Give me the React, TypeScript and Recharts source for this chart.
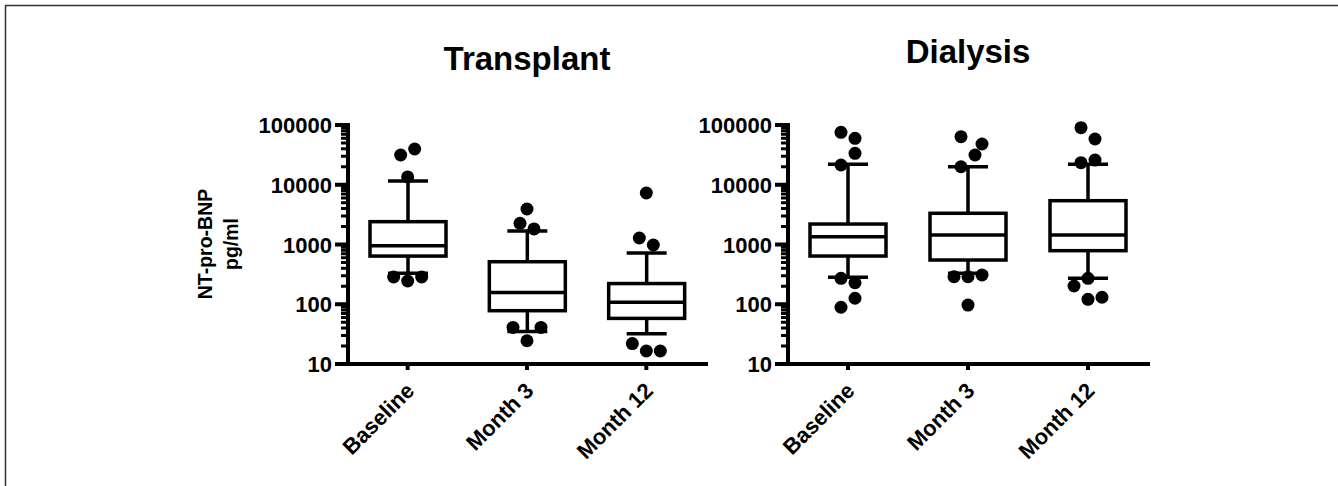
import React from "react";
import { ComposedChart, Bar, Scatter, XAxis, YAxis } from "recharts";

const FONT = "'Liberation Sans', Arial, Helvetica, sans-serif";

const categories = ["Baseline", "Month 3", "Month 12"];

// Transplant group (pg/ml)
const transplantLow = [330, 35, 32];
const transplantQ1 = [640, 78, 58];
const transplantMedian = [955, 158, 108];
const transplantQ3 = [2410, 515, 222];
const transplantHigh = [11600, 1680, 720];

// Dialysis group (pg/ml)
const dialysisLow = [282, 330, 272];
const dialysisQ1 = [641, 550, 788];
const dialysisMedian = [1350, 1440, 1440];
const dialysisQ3 = [2200, 3330, 5410];
const dialysisHigh = [22000, 20000, 22000];

// outliers: slot = jitter column (-2..2) so dots do not overlap
const transplantOutliers = [
  { cat: "Baseline", v: 31500, slot: -1 },
  { cat: "Baseline", v: 39700, slot: 1 },
  { cat: "Baseline", v: 13500, slot: 0 },
  { cat: "Baseline", v: 286, slot: -2 },
  { cat: "Baseline", v: 245, slot: 0 },
  { cat: "Baseline", v: 286, slot: 2 },
  { cat: "Month 3", v: 3930, slot: 0 },
  { cat: "Month 3", v: 2260, slot: -1 },
  { cat: "Month 3", v: 1820, slot: 1 },
  { cat: "Month 3", v: 41, slot: -2 },
  { cat: "Month 3", v: 41, slot: 2 },
  { cat: "Month 3", v: 24.5, slot: 0 },
  { cat: "Month 12", v: 7280, slot: 0 },
  { cat: "Month 12", v: 1285, slot: -1 },
  { cat: "Month 12", v: 980, slot: 1 },
  { cat: "Month 12", v: 22, slot: -2 },
  { cat: "Month 12", v: 16.5, slot: 0 },
  { cat: "Month 12", v: 16.5, slot: 2 },
];

const dialysisOutliers = [
  { cat: "Baseline", v: 75500, slot: -1 },
  { cat: "Baseline", v: 59900, slot: 1 },
  { cat: "Baseline", v: 33600, slot: 1 },
  { cat: "Baseline", v: 21400, slot: -1 },
  { cat: "Baseline", v: 272, slot: -1 },
  { cat: "Baseline", v: 229, slot: 1 },
  { cat: "Baseline", v: 126, slot: 1 },
  { cat: "Baseline", v: 89, slot: -1 },
  { cat: "Month 3", v: 63700, slot: -1 },
  { cat: "Month 3", v: 48100, slot: 2 },
  { cat: "Month 3", v: 31500, slot: 1 },
  { cat: "Month 3", v: 20000, slot: -1 },
  { cat: "Month 3", v: 289, slot: -2 },
  { cat: "Month 3", v: 289, slot: 0 },
  { cat: "Month 3", v: 309, slot: 2 },
  { cat: "Month 3", v: 97, slot: 0 },
  { cat: "Month 12", v: 90200, slot: -1 },
  { cat: "Month 12", v: 58300, slot: 1 },
  { cat: "Month 12", v: 25900, slot: 1 },
  { cat: "Month 12", v: 23400, slot: -1 },
  { cat: "Month 12", v: 272, slot: 0 },
  { cat: "Month 12", v: 202, slot: -2 },
  { cat: "Month 12", v: 121, slot: 0 },
  { cat: "Month 12", v: 131, slot: 2 },
];

const majorTicks = [10, 100, 1000, 10000, 100000];
const minorSteps = [2, 3, 4, 5, 6, 7, 8, 9];
const yTicks = [
  ...majorTicks,
  ...majorTicks.slice(0, 4).flatMap((d) => minorSteps.map((m) => d * m)),
];

const buildRows = (lo: number[], q1: number[], med: number[], q3: number[], hi: number[]) =>
  categories.map((cat, i) => ({
    cat,
    whisker: [lo[i], hi[i]],
    box: [q1[i], q3[i]],
    median: med[i],
  }));

const transplantRows = buildRows(transplantLow, transplantQ1, transplantMedian, transplantQ3, transplantHigh);
const dialysisRows = buildRows(dialysisLow, dialysisQ1, dialysisMedian, dialysisQ3, dialysisHigh);

const SW = 3.5;

function WhiskerShape(props: any) {
  const { x, y, width, height } = props;
  const cx = x + width / 2;
  return (
    <g stroke="#000" strokeWidth={SW}>
      <line x1={cx} x2={cx} y1={y} y2={y + height} />
      <line x1={cx - 20} x2={cx + 20} y1={y} y2={y} />
      <line x1={cx - 20} x2={cx + 20} y1={y + height} y2={y + height} />
    </g>
  );
}

function BoxShape(props: any) {
  const { x, y, width, height } = props;
  return <rect x={x} y={y} width={width} height={height} fill="#fff" stroke="#000" strokeWidth={SW} />;
}

function MedianShape(props: any) {
  const { cx, cy } = props;
  return <line x1={cx - 38} x2={cx + 38} y1={cy} y2={cy} stroke="#000" strokeWidth={SW} />;
}

function DotShape(props: any) {
  const { cx, cy, payload } = props;
  return <circle cx={cx + (payload?.slot ?? 0) * 7} cy={cy} r={6.5} fill="#000" />;
}

function YTick(props: any) {
  const { x, y, payload } = props;
  const major = majorTicks.includes(payload.value);
  return (
    <g>
      <line
        x1={x - (major ? 13 : 7)}
        x2={x}
        y1={y}
        y2={y}
        stroke="#000"
        strokeWidth={major ? 4 : 3}
      />
      {major && (
        <text
          x={x - 16}
          y={y}
          dy={8}
          textAnchor="end"
          fontFamily={FONT}
          fontWeight="bold"
          fontSize={22}
          fill="#000"
        >
          {payload.value}
        </text>
      )}
    </g>
  );
}

function XTick(props: any) {
  const { x, y, payload } = props;
  const tx = x + 8;
  const ty = y + 28;
  return (
    <g>
      <line x1={x} x2={x} y1={y} y2={y + 6} stroke="#000" strokeWidth={4} />
      <text
        x={tx}
        y={ty}
        textAnchor="end"
        transform={`rotate(-45, ${tx}, ${ty})`}
        fontFamily={FONT}
        fontWeight="bold"
        fontSize={22}
        fill="#000"
      >
        {payload.value}
      </text>
    </g>
  );
}

type PanelProps = {
  rows: any[];
  outliers: any[];
  left: number;
  width: number;
  yAxisWidth: number;
  marginRight: number;
};

function BoxPanel({ rows, outliers, left, width, yAxisWidth, marginRight }: PanelProps) {
  const axisLine = { stroke: "#000", strokeWidth: 4, strokeLinecap: "square" as const };
  return (
    <div style={{ position: "absolute", left, top: 0, width, height: 486 }}>
      <ComposedChart
        width={width}
        height={486}
        data={rows}
        margin={{ top: 125, right: marginRight, bottom: 0, left: 0 }}
      >
        <XAxis xAxisId="box" dataKey="cat" type="category" allowDuplicatedCategory={false} height={0} hide />
        <XAxis
          xAxisId="main"
          dataKey="cat"
          type="category"
          allowDuplicatedCategory={false}
          height={122}
          interval={0}
          tickLine={false}
          tickSize={0}
          tickMargin={0}
          axisLine={axisLine}
          tick={(p: any) => <XTick {...p} />}
        />
        <YAxis
          type="number"
          scale="log"
          domain={[10, 100000]}
          ticks={yTicks}
          interval={0}
          width={yAxisWidth}
          tickLine={false}
          tickSize={0}
          tickMargin={0}
          axisLine={axisLine}
          tick={(p: any) => <YTick {...p} />}
        />
        <Bar xAxisId="main" dataKey="whisker" barSize={40} shape={WhiskerShape} isAnimationActive={false} />
        <Bar xAxisId="box" dataKey="box" barSize={76} shape={BoxShape} isAnimationActive={false} />
        <Scatter xAxisId="main" dataKey="median" shape={MedianShape} isAnimationActive={false} />
        <Scatter xAxisId="main" data={outliers} dataKey="v" shape={DotShape} isAnimationActive={false} />
      </ComposedChart>
    </div>
  );
}

export default function App() {
  return (
    <div
      style={{
        position: "absolute",
        left: 0,
        top: 0,
        width: 1338,
        height: 486,
        background: "#fff",
        overflow: "hidden",
      }}
    >
      <BoxPanel rows={transplantRows} outliers={transplantOutliers} left={0} width={720} yAxisWidth={348} marginRight={14} />
      <BoxPanel rows={dialysisRows} outliers={dialysisOutliers} left={660} width={678} yAxisWidth={128} marginRight={190} />
      <svg
        width={1338}
        height={486}
        style={{ position: "absolute", left: 0, top: 0, pointerEvents: "none" }}
      >
        <path d="M5.5 486 V5.5 H1338" fill="none" stroke="#333" strokeWidth={1.5} />
        <text x={527} y={70} textAnchor="middle" fontFamily={FONT} fontWeight="bold" fontSize={33} fill="#000">
          Transplant
        </text>
        <text x={968} y={63} textAnchor="middle" fontFamily={FONT} fontWeight="bold" fontSize={33} fill="#000">
          Dialysis
        </text>
        <text
          x={211.5}
          y={244}
          textAnchor="middle"
          transform="rotate(-90, 211.5, 244)"
          fontFamily={FONT}
          fontWeight="bold"
          fontSize={19.5}
          fill="#000"
        >
          NT-pro-BNP
        </text>
        <text
          x={238}
          y={244}
          textAnchor="middle"
          transform="rotate(-90, 238, 244)"
          fontFamily={FONT}
          fontWeight="bold"
          fontSize={19.5}
          fill="#000"
        >
          pg/ml
        </text>
      </svg>
    </div>
  );
}
